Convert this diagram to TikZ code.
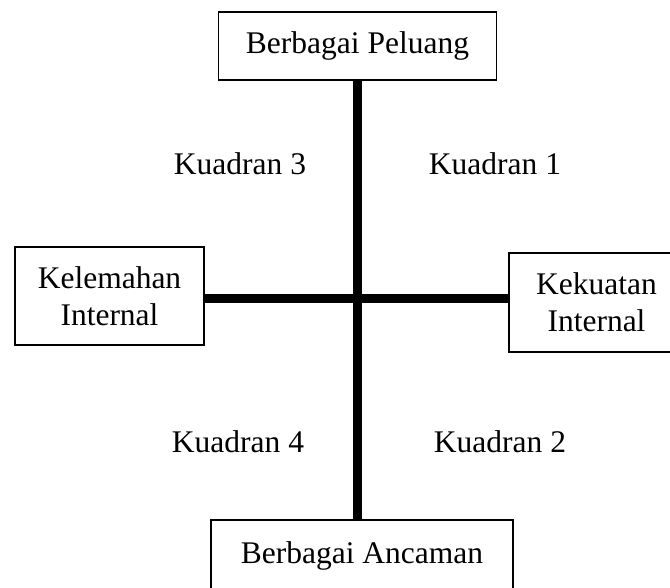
\documentclass[tikz,border=0pt]{standalone}
\usepackage{fontspec}
\setmainfont{Liberation Serif}
\begin{document}
\begin{tikzpicture}[x=1pt,y=-1pt,
  box/.style={draw=black,line width=1.6pt,fill=white,align=center,inner sep=0pt,
    font=\fontsize{31.5}{37}\selectfont},
  axis/.style={draw=black,line width=9pt,line cap=butt},
  quad/.style={anchor=base,inner sep=0pt,font=\fontsize{31.5}{37}\selectfont}]
\useasboundingbox (0,0) rectangle (670,588);
% four boxes around the cross
\node[box,minimum width=278pt,minimum height=68pt] (top) at (357.5,46) {Berbagai Peluang};
\node[box,minimum width=189pt,minimum height=98pt] (left) at (109.5,296) {Kelemahan\\Internal};
\node[box,minimum width=175pt,minimum height=99pt] (right) at (596.5,302.5) {Kekuatan\\Internal};
\node[box,minimum width=302pt,minimum height=72pt] (bot) at (362,556) {Berbagai Ancaman};
\coordinate (hc) at (358,299);
% the cross
\draw[axis] (top.south) -- (top.south |- bot.north);
\draw[axis] (left.east |- hc) -- (right.west |- hc);
% quadrant labels
\node[quad] (q3) at (240,175) {Kuadran 3};
\node[quad] (q1) at (495,175) {Kuadran 1};
\node[quad] (q4) at (238,452) {Kuadran 4};
\node[quad] (q2) at (500,452) {Kuadran 2};
\end{tikzpicture}
\end{document}
